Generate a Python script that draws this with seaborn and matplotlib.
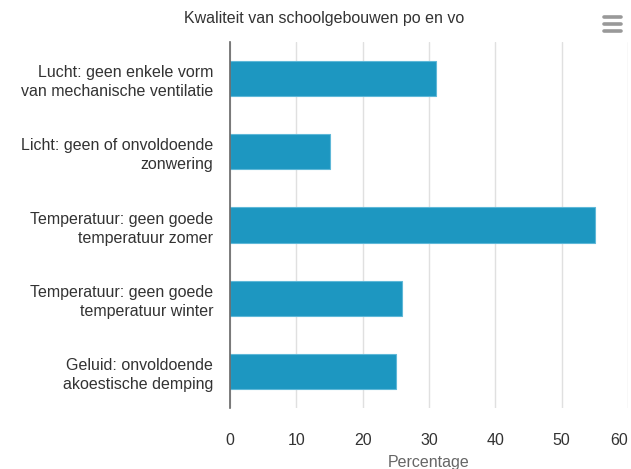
import matplotlib
matplotlib.use("Agg")
import matplotlib.pyplot as plt
import seaborn as sns
import pandas as pd
from matplotlib.lines import Line2D

categories = [
    "Lucht: geen enkele vorm\nvan mechanische ventilatie",
    "Licht: geen of onvoldoende\nzonwering",
    "Temperatuur: geen goede\ntemperatuur zomer",
    "Temperatuur: geen goede\ntemperatuur winter",
    "Geluid: onvoldoende\nakoestische demping",
]
values = [31, 15, 55, 26, 25]
xticks = [0, 10, 20, 30, 40, 50, 60]
title = "Kwaliteit van schoolgebouwen po en vo"
xlabel = "Percentage"

sns.set_style("white")
plt.rcParams["font.family"] = ["Liberation Sans", "DejaVu Sans"]

df = pd.DataFrame({"cat": categories, "val": values})

fig = plt.figure(figsize=(6.31, 4.69), dpi=100)
ax = fig.add_axes([230 / 631, 1 - 408 / 469, 398 / 631, 366 / 469])

sns.barplot(data=df, y="cat", x="val", orient="h", color="#1d97c1",
            width=0.48, edgecolor="#5fb8d8", linewidth=0.8, saturation=1, ax=ax)

ax.set_xlim(0, 60)
ax.set_xticks(xticks)
ax.set_xticklabels([str(t) for t in xticks], fontsize=11.5, color="#333333")
ax.get_xticklabels()[-1].set_horizontalalignment("right")
ax.tick_params(axis="x", length=0, pad=18)
ax.tick_params(axis="y", length=0, pad=12)
for lab in ax.get_yticklabels():
    lab.set_fontsize(11.5)
    lab.set_color("#333333")
    lab.set_horizontalalignment("right")
    lab.set_linespacing(1.35)
ax.set_ylabel("")
ax.set_xlabel(xlabel, fontsize=11.5, color="#666666", labelpad=5)
ax.grid(axis="x", color="#e0e0e0", linewidth=1)
ax.set_axisbelow(True)
for s in ["top", "right", "bottom"]:
    ax.spines[s].set_visible(False)
ax.spines["left"].set_color("#666666")
ax.spines["left"].set_linewidth(1.2)

fig.text(324 / 631, 1 - 18 / 469, title, ha="center", va="center",
         fontsize=11.5, color="#333333")

# hamburger menu icon
for yy in [17, 24, 31]:
    fig.add_artist(Line2D([604 / 631, 621 / 631], [1 - yy / 469, 1 - yy / 469],
                          color="#999999", linewidth=2.6, solid_capstyle="round"))

fig.savefig("out.png", dpi=100)
